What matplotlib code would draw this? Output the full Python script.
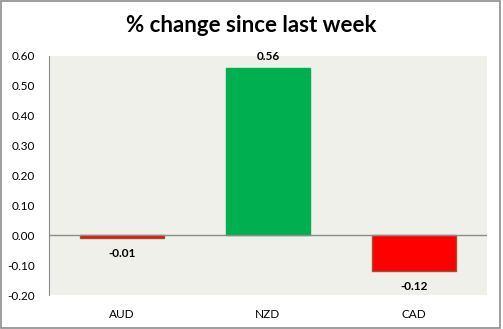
import matplotlib
matplotlib.use("Agg")
import matplotlib.pyplot as plt
from matplotlib.patches import Rectangle

currencies = ["AUD", "NZD", "CAD"]
changes = [-0.01, 0.56, -0.12]
bar_colors = ["#FF0000", "#00B050", "#FF0000"]
edge_colors = ["#A0522D", "#00B050", "#A0522D"]
y_ticks = [-0.20, -0.10, 0.00, 0.10, 0.20, 0.30, 0.40, 0.50, 0.60]

plt.rcParams["font.family"] = ["Lato", "DejaVu Sans"]

fig = plt.figure(figsize=(5.03, 3.29), dpi=100)
fig.patch.set_facecolor("white")

# gray frame around the whole chart
fig.patches.append(Rectangle((0.002, 0.004), 0.992, 0.992, transform=fig.transFigure,
                             fill=False, edgecolor="#8C8C8C", linewidth=1.2))

ax = fig.add_axes([49 / 503, 34 / 329, 438 / 503, 239 / 329])
ax.set_facecolor("#EFF0E9")

x = range(len(currencies))
bars = ax.bar(x, changes, width=0.58, color=bar_colors, edgecolor=edge_colors,
              linewidth=1.0, zorder=2)

ax.axhline(0, color="#8C8C8C", linewidth=1.0, zorder=3)
ax.set_xlim(-0.5, len(currencies) - 0.5)
ax.set_ylim(-0.20, 0.60)
ax.set_yticks(y_ticks)
ax.set_yticklabels([f"{v:.2f}" for v in y_ticks], fontsize=8.5)
ax.set_xticks(list(x))
ax.set_xticklabels(currencies, fontsize=8.5)
ax.tick_params(axis="both", length=0)
ax.tick_params(axis="y", pad=10)
ax.tick_params(axis="x", pad=10)

for side in ["top", "right", "bottom"]:
    ax.spines[side].set_visible(False)
ax.spines["left"].set_color("#8C8C8C")

for rect, val in zip(bars, changes):
    cx = rect.get_x() + rect.get_width() / 2
    if val >= 0:
        ax.annotate(f"{val:.2f}", (cx, val), xytext=(0, 4), textcoords="offset points",
                    ha="center", va="bottom", fontsize=8.5, fontweight="bold")
    else:
        ax.annotate(f"{val:.2f}", (cx, val), xytext=(0, -7), textcoords="offset points",
                    ha="center", va="top", fontsize=8.5, fontweight="bold")

fig.text(0.5, 1 - 25 / 329, "% change since last week", ha="center", va="center",
         fontsize=16, fontweight="bold")

fig.savefig("out.png", dpi=100, facecolor="white")
